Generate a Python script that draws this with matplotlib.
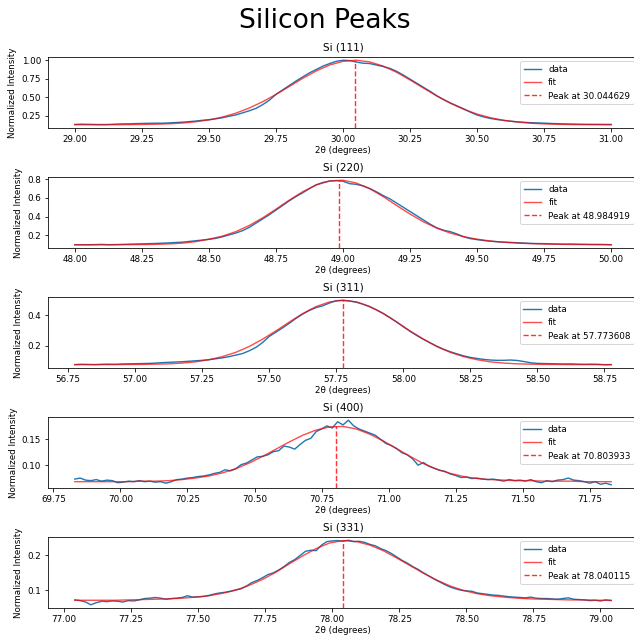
import numpy as np
import matplotlib
matplotlib.use("Agg")
import matplotlib.pyplot as plt

# reflections, scan windows and fitted peak positions
peak_names = ["Si (111)", "Si (220)", "Si (311)", "Si (400)", "Si (331)"]
x_ranges = [(29.0, 31.0), (48.0, 50.0), (56.775, 58.775), (69.83, 71.83), (77.04, 79.04)]
peak_pos = [30.044629, 48.984919, 57.773608, 70.803933, 78.040115]

si111_data = [0.135, 0.138, 0.136, 0.134, 0.133, 0.134, 0.138, 0.142, 0.143, 0.146,
              0.148, 0.150, 0.152, 0.151, 0.155, 0.160, 0.165, 0.172, 0.180, 0.190,
              0.198, 0.210, 0.225, 0.245, 0.262, 0.290, 0.318, 0.350, 0.400, 0.460,
              0.540, 0.600, 0.660, 0.720, 0.775, 0.830, 0.875, 0.920, 0.955, 0.985,
              1.000, 0.995, 0.975, 0.960, 0.955, 0.935, 0.915, 0.890, 0.850, 0.800,
              0.745, 0.690, 0.635, 0.580, 0.520, 0.470, 0.425, 0.385, 0.345, 0.300,
              0.262, 0.235, 0.215, 0.200, 0.188, 0.178, 0.170, 0.163, 0.158, 0.155,
              0.152, 0.148, 0.145, 0.142, 0.140, 0.138, 0.137, 0.136, 0.136, 0.135,
              0.135]
si220_data = [0.100, 0.101, 0.100, 0.102, 0.104, 0.101, 0.102, 0.104, 0.106, 0.108,
              0.110, 0.112, 0.114, 0.117, 0.120, 0.124, 0.128, 0.135, 0.143, 0.150,
              0.158, 0.168, 0.185, 0.205, 0.225, 0.250, 0.285, 0.330, 0.375, 0.420,
              0.470, 0.520, 0.570, 0.615, 0.655, 0.700, 0.740, 0.765, 0.780, 0.785,
              0.778, 0.752, 0.745, 0.728, 0.700, 0.665, 0.625, 0.590, 0.545, 0.500,
              0.455, 0.410, 0.365, 0.320, 0.280, 0.255, 0.240, 0.215, 0.185, 0.165,
              0.155, 0.145, 0.138, 0.132, 0.128, 0.125, 0.122, 0.118, 0.115, 0.113,
              0.112, 0.110, 0.108, 0.107, 0.108, 0.106, 0.105, 0.104, 0.104, 0.103,
              0.100]
si311_data = [0.078, 0.080, 0.079, 0.078, 0.080, 0.081, 0.080, 0.082, 0.083, 0.084,
              0.085, 0.086, 0.088, 0.091, 0.093, 0.095, 0.097, 0.100, 0.103, 0.106,
              0.110, 0.116, 0.122, 0.130, 0.140, 0.150, 0.168, 0.190, 0.222, 0.262,
              0.290, 0.318, 0.348, 0.380, 0.408, 0.432, 0.450, 0.462, 0.480, 0.495,
              0.497, 0.493, 0.485, 0.472, 0.455, 0.435, 0.412, 0.385, 0.356, 0.325,
              0.295, 0.268, 0.243, 0.220, 0.198, 0.178, 0.162, 0.148, 0.135, 0.125,
              0.118, 0.112, 0.108, 0.106, 0.106, 0.108, 0.105, 0.098, 0.090, 0.086,
              0.085, 0.084, 0.083, 0.082, 0.083, 0.081, 0.080, 0.081, 0.080, 0.077,
              0.078]
si400_data = [0.073, 0.075, 0.071, 0.070, 0.072, 0.069, 0.071, 0.070, 0.066, 0.067,
              0.069, 0.068, 0.070, 0.068, 0.069, 0.067, 0.068, 0.065, 0.068, 0.072,
              0.073, 0.075, 0.076, 0.078, 0.079, 0.081, 0.084, 0.086, 0.091, 0.089,
              0.093, 0.101, 0.104, 0.110, 0.116, 0.117, 0.120, 0.126, 0.128, 0.137,
              0.135, 0.131, 0.140, 0.148, 0.152, 0.165, 0.170, 0.176, 0.172, 0.184,
              0.178, 0.187, 0.176, 0.170, 0.166, 0.162, 0.158, 0.150, 0.142, 0.138,
              0.132, 0.124, 0.120, 0.112, 0.100, 0.105, 0.098, 0.094, 0.090, 0.088,
              0.083, 0.080, 0.076, 0.077, 0.074, 0.075, 0.073, 0.072, 0.073, 0.071,
              0.069, 0.072, 0.070, 0.071, 0.069, 0.072, 0.068, 0.066, 0.070, 0.068,
              0.071, 0.072, 0.075, 0.071, 0.070, 0.068, 0.065, 0.068, 0.063, 0.065,
              0.062]
si331_data = [0.072, 0.070, 0.066, 0.058, 0.064, 0.068, 0.067, 0.069, 0.068, 0.066,
              0.070, 0.069, 0.072, 0.076, 0.077, 0.079, 0.077, 0.074, 0.076, 0.077,
              0.079, 0.084, 0.080, 0.081, 0.082, 0.085, 0.089, 0.092, 0.094, 0.097,
              0.101, 0.104, 0.112, 0.122, 0.128, 0.136, 0.145, 0.150, 0.158, 0.168,
              0.180, 0.188, 0.200, 0.212, 0.215, 0.214, 0.230, 0.240, 0.242, 0.243,
              0.241, 0.244, 0.240, 0.241, 0.238, 0.232, 0.228, 0.220, 0.214, 0.206,
              0.196, 0.186, 0.178, 0.168, 0.160, 0.150, 0.141, 0.132, 0.124, 0.116,
              0.109, 0.104, 0.100, 0.098, 0.097, 0.092, 0.090, 0.088, 0.086, 0.085,
              0.083, 0.081, 0.080, 0.079, 0.078, 0.080, 0.077, 0.076, 0.076, 0.075,
              0.074, 0.076, 0.078, 0.074, 0.073, 0.072, 0.070, 0.071, 0.069, 0.072,
              0.070]

# fitted curves
si111_fit = [0.130, 0.130, 0.130, 0.131, 0.132, 0.134, 0.137, 0.143, 0.153, 0.170,
             0.196, 0.233, 0.286, 0.355, 0.440, 0.539, 0.647, 0.756, 0.855, 0.935,
             0.985, 1.000, 0.977, 0.921, 0.837, 0.734, 0.625, 0.518, 0.421, 0.339,
             0.274, 0.225, 0.190, 0.167, 0.151, 0.142, 0.136, 0.133, 0.131, 0.131,
             0.130]
si220_fit = [0.100, 0.100, 0.100, 0.100, 0.101, 0.102, 0.104, 0.109, 0.117, 0.133,
             0.160, 0.192, 0.240, 0.305, 0.387, 0.480, 0.577, 0.667, 0.738, 0.781,
             0.789, 0.759, 0.698, 0.614, 0.519, 0.428, 0.345, 0.278, 0.225, 0.187,
             0.160, 0.140, 0.127, 0.118, 0.112, 0.108, 0.105, 0.103, 0.102, 0.101,
             0.101]
si311_fit = [0.078, 0.078, 0.078, 0.078, 0.079, 0.079, 0.081, 0.083, 0.088, 0.096,
             0.110, 0.130, 0.158, 0.196, 0.244, 0.298, 0.356, 0.411, 0.457, 0.487,
             0.498, 0.487, 0.457, 0.411, 0.356, 0.298, 0.244, 0.196, 0.158, 0.130,
             0.110, 0.096, 0.088, 0.083, 0.081, 0.079, 0.079, 0.078, 0.078, 0.078,
             0.078]
si400_fit = [0.068, 0.068, 0.068, 0.068, 0.068, 0.069, 0.069, 0.070, 0.072, 0.075,
             0.079, 0.085, 0.093, 0.104, 0.117, 0.131, 0.145, 0.158, 0.168, 0.174,
             0.175, 0.170, 0.160, 0.147, 0.132, 0.117, 0.103, 0.092, 0.084, 0.078,
             0.074, 0.072, 0.071, 0.070, 0.070, 0.069, 0.069, 0.069, 0.068, 0.068,
             0.068]
si331_fit = [0.071, 0.071, 0.071, 0.071, 0.072, 0.073, 0.074, 0.075, 0.077, 0.080,
             0.084, 0.091, 0.100, 0.114, 0.131, 0.152, 0.176, 0.199, 0.220, 0.236,
             0.243, 0.240, 0.230, 0.214, 0.193, 0.171, 0.149, 0.129, 0.112, 0.099,
             0.090, 0.084, 0.080, 0.077, 0.075, 0.074, 0.073, 0.072, 0.072, 0.071,
             0.071]

all_data = [si111_data, si220_data, si311_data, si400_data, si331_data]
all_fit = [si111_fit, si220_fit, si311_fit, si400_fit, si331_fit]

fs = 8.7
plt.rcParams['font.size'] = fs

fig, axes = plt.subplots(5, 1, figsize=(634 / 72, 637 / 72), dpi=72)
fig.subplots_adjust(left=48 / 634, right=638 / 634, top=1 - 57 / 637,
                    bottom=1 - 608 / 637, hspace=0.69)

for ax, name, (x0, x1), peak, data, fit in zip(axes, peak_names, x_ranges, peak_pos, all_data, all_fit):
    xd = np.linspace(x0, x1, len(data))
    xf = np.linspace(x0, x1, len(fit))
    ax.plot(xd, data, color='C0', lw=1.4, label='data')
    ax.plot(xf, fit, color='r', alpha=0.7, lw=1.4, label='fit')
    ylo, yhi = ax.get_ylim()
    ax.vlines(peak, ylo, max(fit), colors='r', linestyles='--', lw=1.4, alpha=0.8,
              label=f'Peak at {peak:.6f}')
    ax.set_ylim(ylo, yhi)
    ax.set_title(name, fontsize=10.4)
    ax.set_xlabel('2θ (degrees)', labelpad=2)
    ax.set_ylabel('Normalized Intensity')
    ax.legend(loc='upper right')

fig.text(325 / 634, 1 - 28.5 / 637, 'Silicon Peaks', ha='center', va='baseline', fontsize=26.5)

fig.savefig('out.png', dpi=72)
